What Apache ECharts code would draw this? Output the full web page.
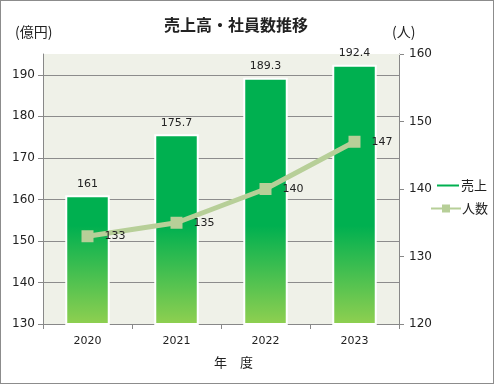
<!DOCTYPE html>
<html><head><meta charset="utf-8">
<script src="https://cdn.jsdelivr.net/npm/echarts@6/dist/echarts.min.js"></script>
<style>html,body{margin:0;padding:0;background:#fff}#c{width:494px;height:384px;box-sizing:border-box;border:1px solid #8c8c8c}</style>
</head><body><div id="c"></div>
<script>
const years = ['2020', '2021', '2022', '2023'];
const sales = [161, 175.7, 189.3, 192.4];
const staff = [133, 135, 140, 147];
const titleText = '売上高・社員数推移';
const leftName = '(億円)';
const rightName = '(人)';
const xName = '年　度';
const salesName = '売上';
const staffName = '人数';

const FONT = '"DejaVu Sans", "Noto Sans CJK JP", sans-serif';
const JFONT = '"Noto Sans CJK JP", sans-serif';
const chart = echarts.init(document.getElementById('c'), null, {renderer: 'canvas'});
const lineColor = '#b7cf98';
const plotBg = '#eff1e8';
chart.setOption({
  animation: false,
  backgroundColor: '#fff',
  title: {text: titleText, left: 230, top: 11, textAlign: 'center',
    textStyle: {fontFamily: JFONT, fontSize: 16, fontWeight: 'bold', color: '#222'}},
  graphic: [
    {type: 'text', left: 14, top: 24, style: {text: leftName, font: '14px ' + JFONT, fill: '#222'}},
    {type: 'text', left: 391, top: 24, style: {text: rightName, font: '14px ' + JFONT, fill: '#222'}},
    {type: 'text', left: 213, top: 355, style: {text: xName, font: '13px ' + JFONT, fill: '#222'}},
    {type: 'line', shape: {x1: 43, y1: 53.5, x2: 399, y2: 53.5}, style: {stroke: plotBg, lineWidth: 1.2}, z: 1}
  ],
  legend: [
    {data: [{name: salesName, icon: 'rect', itemStyle: {color: '#00b050'}}], left: 429, top: 173, itemWidth: 24, itemHeight: 4,
      textStyle: {fontFamily: JFONT, fontSize: 13, color: '#222', padding: [0,0,0,-4]}},
    {data: [{name: staffName}], left: 424, top: 196, itemWidth: 30, itemHeight: 10,
      textStyle: {fontFamily: JFONT, fontSize: 13, color: '#222', padding: [0,0,0,-4]}}
  ],
  grid: {left: 42, right: 94, top: 53, bottom: 59, show: true, backgroundColor: plotBg, borderWidth: 0},
  xAxis: {type: 'category', data: years,
    axisLine: {lineStyle: {color: '#888'}},
    axisTick: {show: true, length: 5, lineStyle: {color: '#888'}},
    axisLabel: {fontFamily: FONT, fontSize: 11, color: '#222', margin: 12}},
  yAxis: [
    {type: 'value', min: 130, max: 195, interval: 10, position: 'left',
      axisLine: {show: true, lineStyle: {color: '#888'}},
      axisTick: {show: true, length: 5, lineStyle: {color: '#888'}},
      axisLabel: {fontFamily: FONT, fontSize: 12, color: '#222', showMaxLabel: false, margin: 8},
      splitLine: {show: true, lineStyle: {color: '#8c8c8c', width: 1}}},
    {type: 'value', min: 120, max: 160, interval: 10, position: 'right',
      axisLine: {show: true, lineStyle: {color: '#888'}},
      axisTick: {show: true, length: 5, lineStyle: {color: '#888'}},
      axisLabel: {fontFamily: FONT, fontSize: 12, color: '#222', margin: 10},
      splitLine: {show: false}}
  ],
  series: [
    {name: salesName, type: 'bar', data: sales, yAxisIndex: 0, barWidth: '50%', z: 3,
      itemStyle: {borderColor: '#fff', borderWidth: 2,
        color: {type: 'linear', x: 0, y: 225, x2: 0, y2: 325, global: true,
          colorStops: [{offset: 0, color: '#00b050'}, {offset: 1, color: '#92d050'}]}},
      label: {show: true, position: 'top', distance: 6, fontFamily: FONT, fontSize: 11, color: '#222'}},
    {name: staffName, type: 'line', data: staff, yAxisIndex: 1, symbol: 'rect', symbolSize: 12, z: 4,
      lineStyle: {color: lineColor, width: 5}, itemStyle: {color: lineColor},
      label: {show: true, position: 'right', distance: 11, fontFamily: FONT, fontSize: 11, color: '#222'}}
  ]
});
</script></body></html>
